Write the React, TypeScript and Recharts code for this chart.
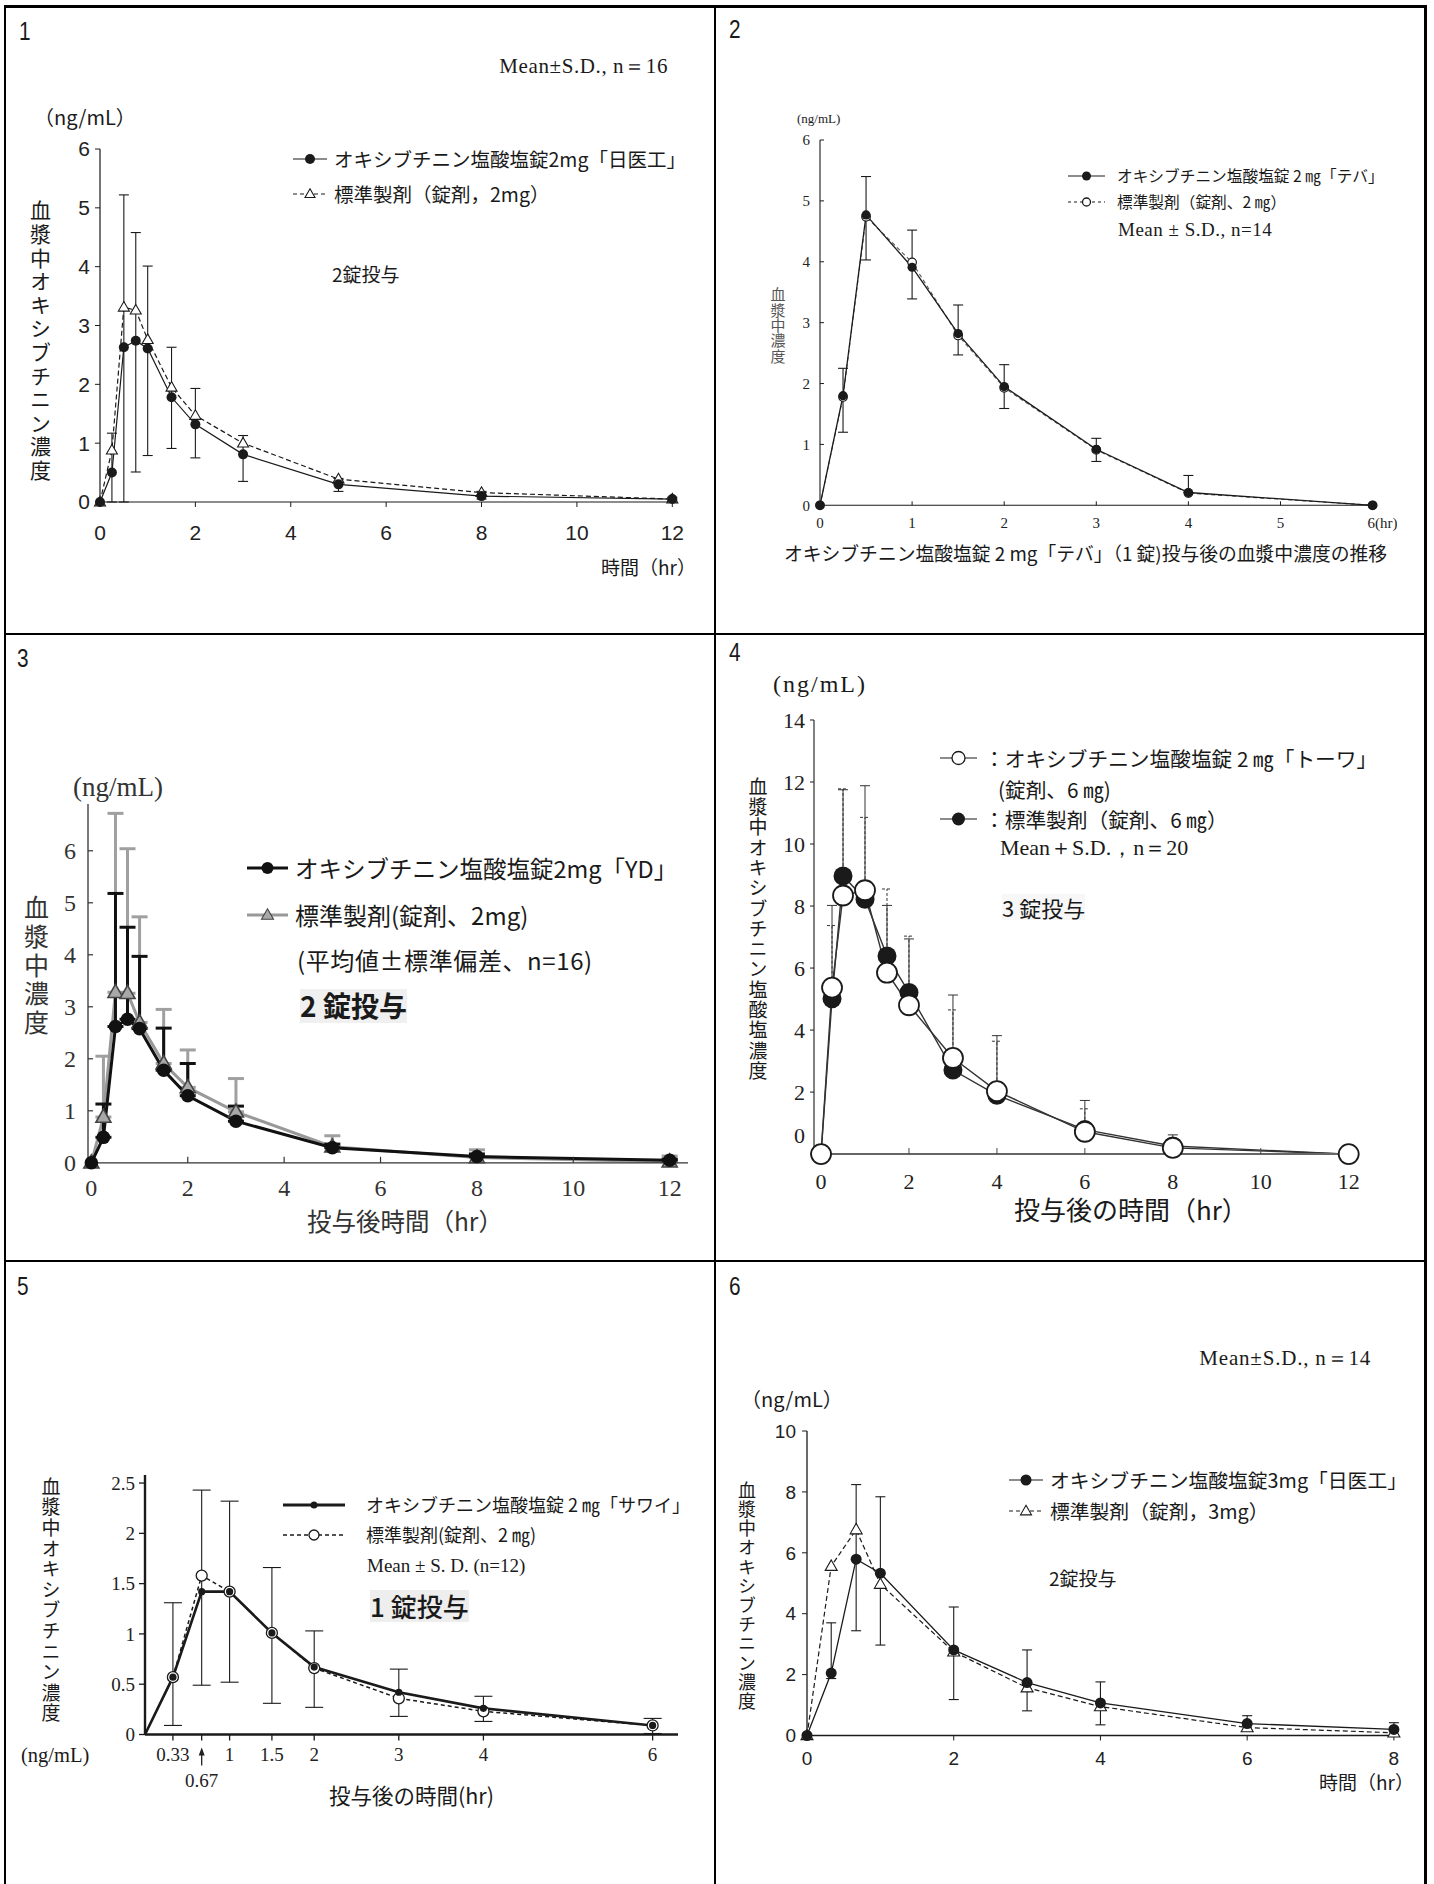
import React from "react";
import { LineChart, Line, XAxis, YAxis, ErrorBar } from "recharts";

const JP = '"Noto Sans CJK JP", sans-serif';
const SERIF = '"Liberation Serif", "DejaVu Serif", serif';
const SANS = '"Liberation Sans", Arial, sans-serif';
const INK = "#1a1a1a";

// panel 1: 2mg「日医工」 vs reference, 2 tablets
const P1_TIME = [0, 0.25, 0.5, 0.75, 1, 1.5, 2, 3, 5, 8, 12];
const P1_TEST = [0, 0.5, 2.63, 2.74, 2.61, 1.78, 1.32, 0.81, 0.3, 0.1, 0.05];
const P1_REF = [0, 0.88, 3.31, 3.26, 2.76, 1.95, 1.47, 1.0, 0.39, 0.16, 0.05];
const P1_HI = [0, 1.17, 5.22, 4.58, 4.01, 2.63, 1.93, 1.13, 0.4, 0.18, 0.08];
const P1_LO = [0, 0, 0, 0.51, 0.79, 0.91, 0.75, 0.35, 0.18, 0.05, 0.02];

// panel 2: 「テバ」 1 tablet
const P2_TIME = [0, 0.25, 0.5, 1, 1.5, 2, 3, 4, 6];
const P2_TEST = [0, 1.8, 4.77, 3.91, 2.82, 1.95, 0.92, 0.21, 0];
const P2_REF = [0, 1.78, 4.74, 3.99, 2.79, 1.93, 0.91, 0.2, 0];
const P2_HI = [0, 2.25, 5.4, 4.52, 3.29, 2.31, 1.1, 0.49, 0];
const P2_LO = [0, 1.2, 4.03, 3.39, 2.47, 1.59, 0.72, 0.21, 0];

// panel 3: 「YD」 2 tablets (mean + SD)
const P3_TIME = [0, 0.25, 0.5, 0.75, 1, 1.5, 2, 3, 5, 8, 12];
const P3_TEST = [0, 0.49, 2.62, 2.76, 2.58, 1.78, 1.29, 0.8, 0.29, 0.12, 0.05];
const P3_REF = [0, 0.88, 3.28, 3.26, 2.7, 1.91, 1.45, 0.98, 0.31, 0.1, 0.02];
const P3_TEST_HI = [0, 1.13, 5.18, 4.53, 3.97, 2.59, 1.91, 1.09, 0.36, 0.17, 0.07];
const P3_REF_HI = [0, 2.05, 6.72, 6.04, 4.73, 2.95, 2.17, 1.62, 0.52, 0.25, 0.13];

// panel 4: 「トーワ」 3 tablets (mean + SD)
const P4_TIME = [0, 0.25, 0.5, 1, 1.5, 2, 3, 4, 6, 8, 12];
const P4_TEST = [0, 5.37, 8.34, 8.51, 5.85, 4.8, 3.1, 2.03, 0.72, 0.2, 0];
const P4_REF = [0, 5.01, 8.97, 8.22, 6.39, 5.21, 2.71, 1.9, 0.79, 0.26, 0];
const P4_TEST_HI = [0, 8.02, 11.75, 11.88, 8.02, 6.94, 5.13, 3.82, 1.73, 0.62, 0];
const P4_REF_HI = [0, 7.37, 11.78, 10.86, 8.55, 7.03, 4.65, 3.64, 1.46, 0.45, 0];

// panel 5: 「サワイ」 1 tablet
const P5_TIME = [0, 0.33, 0.67, 1, 1.5, 2, 3, 4, 6];
const P5_TEST = [0, 0.57, 1.42, 1.42, 1.01, 0.67, 0.42, 0.26, 0.09];
const P5_REF = [0, 0.57, 1.58, 1.42, 1.01, 0.66, 0.36, 0.23, 0.09];
const P5_HI = [0, 1.31, 2.43, 2.32, 1.66, 1.03, 0.65, 0.38, 0.16];
const P5_LO = [0, 0.09, 0.49, 0.52, 0.31, 0.27, 0.18, 0.13, 0.01];

// panel 6: 3mg「日医工」 2 tablets
const P6_TIME = [0, 0.33, 0.67, 1, 2, 3, 4, 6, 8];
const P6_TEST = [0, 2.05, 5.79, 5.33, 2.81, 1.74, 1.07, 0.39, 0.2];
const P6_REF = [0, 5.56, 6.76, 4.97, 2.75, 1.57, 0.95, 0.26, 0.09];
const P6_HI = [0, 3.7, 8.24, 7.84, 4.22, 2.81, 1.76, 0.65, 0.42];
const P6_LO = [0, 1.87, 3.44, 2.97, 1.18, 0.81, 0.35, 0.2, 0.0];

const X12 = [0, 2, 4, 6, 8, 10, 12];

function errOf(m: number, lo: number | undefined, hi: number | undefined) {
  if (hi == null) return null;
  const l = lo == null ? m : lo;
  if (hi === m && l === m) return null;
  return [Math.max(0, m - l), Math.max(0, hi - m)];
}

function rows(time: number[], a: number[], b: number[], aHi?: number[], aLo?: number[], bHi?: number[]) {
  return time.map((t, i) => ({
    t,
    a: a[i],
    b: b[i],
    ea: errOf(a[i], aLo ? aLo[i] : undefined, aHi ? aHi[i] : undefined),
    eb: errOf(b[i], undefined, bHi ? bHi[i] : undefined),
  }));
}

function triPath(cx: number, cy: number, s: number) {
  const h = s * 0.87;
  return `M${cx},${cy - h * 0.6}L${cx + s / 2},${cy + h * 0.4}L${cx - s / 2},${cy + h * 0.4}Z`;
}

const filled = (r: number, color = INK) => (p: any) =>
  <circle key={`f${p.index}`} cx={p.cx} cy={p.cy} r={r} fill={color} stroke="none" />;
const open = (r: number, sw = 1.3, color = INK) => (p: any) =>
  <circle key={`o${p.index}`} cx={p.cx} cy={p.cy} r={r} fill="#fff" stroke={color} strokeWidth={sw} />;
const tri = (s: number, fill = "#fff", stroke = INK, sw = 1.1) => (p: any) =>
  <path key={`t${p.index}`} d={triPath(p.cx, p.cy, s)} fill={fill} stroke={stroke} strokeWidth={sw} />;
const skip0 = (f: (p: any) => any) => (p: any) =>
  p.payload && p.payload.t === 0 ? <g key={`z${p.index}`} /> : f(p);

function Plot({ rect, data, xDomain, xTicks, yDomain, yTicks, xProps, yProps, children }: any) {
  const YW = 80, XH = 70, PAD = 24;
  const w = rect.r - rect.l + YW + 2 * PAD;
  const h = rect.b - rect.t + XH + 2 * PAD;
  return (
    <div style={{ position: "absolute", left: rect.l - YW - PAD, top: rect.t - PAD }}>
      <LineChart width={w} height={h} data={data} margin={{ top: PAD, right: PAD, bottom: PAD, left: PAD }}>
        <XAxis type="number" dataKey="t" domain={xDomain} ticks={xTicks} interval={0} height={XH} {...xProps} />
        <YAxis type="number" domain={yDomain} ticks={yTicks} interval={0} width={YW} {...yProps} />
        {children}
      </LineChart>
    </div>
  );
}

function Txt({ x, cy, fs, font = JP, anchor = "start", children, weight = 400, color = INK, bg, ls, style }: any) {
  const tx = anchor === "end" ? "translateX(-100%)" : anchor === "middle" ? "translateX(-50%)" : undefined;
  return (
    <div
      style={{
        position: "absolute", left: x, top: cy - fs * 0.6, fontSize: fs, lineHeight: `${fs * 1.2}px`,
        fontFamily: font, whiteSpace: "nowrap", transform: tx, fontWeight: weight, color, background: bg,
        letterSpacing: ls, ...style,
      }}
    >
      {children}
    </div>
  );
}

function VText({ cx, top, fs, pitch, children, font = JP, color = INK }: any) {
  return (
    <div
      style={{
        position: "absolute", left: cx - fs / 2, top, writingMode: "vertical-rl", fontSize: fs,
        lineHeight: `${fs}px`, letterSpacing: pitch - fs, fontFamily: font, color, whiteSpace: "nowrap",
      }}
    >
      {children}
    </div>
  );
}

function Icon({ x, cy, w, dash, sw = 1.2, color = INK, marker, r = 4.5, mstroke = INK, mfill }: any) {
  const h = 30;
  const mx = w / 2;
  let m = null;
  if (marker === "fc") m = <circle cx={mx} cy={h / 2} r={r} fill={color} />;
  if (marker === "oc") m = <circle cx={mx} cy={h / 2} r={r} fill="#fff" stroke={mstroke} strokeWidth={1.3} />;
  if (marker === "tri") m = <path d={triPath(mx, h / 2, r * 2)} fill={mfill || "#fff"} stroke={mstroke} strokeWidth={1.1} />;
  return (
    <svg style={{ position: "absolute", left: x, top: cy - h / 2, overflow: "visible" }} width={w} height={h}>
      <line x1={0} y1={h / 2} x2={w} y2={h / 2} stroke={color} strokeWidth={sw} strokeDasharray={dash} />
      {m}
    </svg>
  );
}

function Num({ x, cy, children }: any) {
  return (
    <Txt x={x} cy={cy} fs={26} font={SANS} style={{ transform: "scaleX(0.8)", transformOrigin: "left center" }}>
      {children}
    </Txt>
  );
}

const axis = (sw = 1.2, color = INK) => ({ stroke: color, strokeWidth: sw });

function Panel1() {
  const data = rows(P1_TIME, P1_TEST, P1_REF, P1_HI, P1_LO);
  const tick = { fontSize: 21, fontFamily: SANS, fill: "#222" };
  return (
    <>
      <Plot
        rect={{ l: 99.7, r: 672, t: 149, b: 502 }} data={data}
        xDomain={[0, 12]} xTicks={X12} yDomain={[0, 6]} yTicks={[0, 1, 2, 3, 4, 5, 6]}
        xProps={{ axisLine: axis(), tickLine: axis(1), tickSize: 5, tickMargin: 18, tick }}
        yProps={{ axisLine: axis(), tickLine: axis(1), tickSize: 5, tickMargin: 5, tick }}
      >
        <Line type="linear" dataKey="b" stroke={INK} strokeWidth={1.2} strokeDasharray="5 3" dot={tri(11)} activeDot={false} isAnimationActive={false} />
        <Line type="linear" dataKey="a" stroke={INK} strokeWidth={1.2} dot={filled(5)} activeDot={false} isAnimationActive={false}>
          <ErrorBar dataKey="ea" direction="y" width={5} stroke={INK} strokeWidth={1.1} />
        </Line>
      </Plot>
      <Num x={19} cy={31.5}>1</Num>
      <Txt x={668} cy={67} fs={21} font={SERIF} anchor="end" ls={0.6}>Mean±S.D., n＝16</Txt>
      <Txt x={34} cy={117} fs={20}>（ng/mL）</Txt>
      <VText cx={40} top={200} fs={21} pitch={23.6}>血漿中オキシブチニン濃度</VText>
      <Txt x={601} cy={567} fs={19}>時間（hr）</Txt>
      <Icon x={293} cy={159} w={34} marker="fc" r={5} />
      <Txt x={334} cy={159} fs={19.5}>オキシブチニン塩酸塩錠2mg「日医工」</Txt>
      <Icon x={293} cy={194} w={34} dash="4 3" marker="tri" r={5} />
      <Txt x={334} cy={194} fs={19.5}>標準製剤（錠剤，2mg）</Txt>
      <Txt x={332} cy={274} fs={19}>2錠投与</Txt>
    </>
  );
}

function Panel2() {
  const data = rows(P2_TIME, P2_TEST, P2_REF, P2_HI, P2_LO);
  const tick = { fontSize: 15, fontFamily: SERIF, fill: "#222" };
  const xTick = (p: any) => {
    const v = p.payload.value;
    return (
      <text x={v === 6 ? p.x - 5 : p.x} y={p.y} dy="0.71em" textAnchor={v === 6 ? "start" : "middle"} fontSize={15} fontFamily={SERIF} fill="#222">
        {v === 6 ? "6(hr)" : v}
      </text>
    );
  };
  return (
    <>
      <Plot
        rect={{ l: 820.4, r: 1373, t: 139.7, b: 505 }} data={data}
        xDomain={[0, 6]} xTicks={[0, 1, 2, 3, 4, 5, 6]} yDomain={[0, 6]} yTicks={[0, 1, 2, 3, 4, 5, 6]}
        xProps={{ axisLine: axis(1.1), tickLine: axis(1), tickSize: -4, tickMargin: 16, tick: xTick }}
        yProps={{ axisLine: axis(1.1), tickLine: axis(1), tickSize: -4, tickMargin: 14, tick }}
      >
        <Line type="linear" dataKey="b" stroke="#555" strokeWidth={1.1} strokeDasharray="4 3" dot={open(4.3, 1.2)} activeDot={false} isAnimationActive={false} />
        <Line type="linear" dataKey="a" stroke={INK} strokeWidth={1.3} dot={filled(4.6)} activeDot={false} isAnimationActive={false}>
          <ErrorBar dataKey="ea" direction="y" width={5} stroke={INK} strokeWidth={1.1} />
        </Line>
      </Plot>
      <Num x={729} cy={30}>2</Num>
      <Txt x={797} cy={119} fs={13} font={SERIF}>(ng/mL)</Txt>
      <VText cx={778} top={287} fs={15} pitch={15.4} color="#555">血漿中濃度</VText>
      <Txt x={784} cy={553} fs={18.8}>オキシブチニン塩酸塩錠 2 mg「テバ」（1 錠)投与後の血漿中濃度の推移</Txt>
      <Icon x={1068} cy={176} w={37} marker="fc" r={4.5} />
      <Txt x={1117} cy={176} fs={15.7}>オキシブチニン塩酸塩錠 2 ㎎「テバ」</Txt>
      <Icon x={1068} cy={202} w={37} dash="3 3" marker="oc" r={4} />
      <Txt x={1117} cy={202} fs={15.7}>標準製剤（錠剤、2 ㎎）</Txt>
      <Txt x={1118} cy={230} fs={19} font={SERIF} ls={0.5}>Mean ± S.D., n=14</Txt>
    </>
  );
}

function Panel3() {
  const data = rows(P3_TIME, P3_TEST, P3_REF, P3_TEST_HI, undefined, P3_REF_HI);
  const tick = { fontSize: 24, fontFamily: SERIF, fill: "#333" };
  return (
    <>
      <Plot
        rect={{ l: 88, r: 688, t: 803.7, b: 1162.5 }} data={data}
        xDomain={[-0.07, 12.38]} xTicks={X12} yDomain={[0, 6.9]} yTicks={[0, 1, 2, 3, 4, 5, 6]}
        xProps={{ axisLine: axis(1.3, "#333"), tickLine: axis(1.2, "#333"), tickSize: -6, tickMargin: 22, tick }}
        yProps={{ axisLine: axis(1.3, "#333"), tickLine: axis(1.2, "#333"), tickSize: -5, tickMargin: 17, tick }}
      >
        <Line type="linear" dataKey="b" stroke="#999" strokeWidth={3} dot={tri(15, "#a8a8a8", "#444", 1.6)} activeDot={false} isAnimationActive={false}>
          <ErrorBar dataKey="eb" direction="y" width={8} stroke="#a0a0a0" strokeWidth={3} />
        </Line>
        <Line type="linear" dataKey="a" stroke="#111" strokeWidth={3} dot={filled(6.8, "#111")} activeDot={false} isAnimationActive={false}>
          <ErrorBar dataKey="ea" direction="y" width={8} stroke="#111" strokeWidth={3} />
        </Line>
      </Plot>
      <Num x={17} cy={658.5}>3</Num>
      <Txt x={73} cy={787} fs={27} font={SERIF} color="#333">(ng/mL)</Txt>
      <VText cx={36} top={895} fs={25} pitch={28.8} color="#333">血漿中濃度</VText>
      <Txt x={307} cy={1221} fs={24.5} color="#333">投与後時間（hr）</Txt>
      <Icon x={247} cy={868} w={41} sw={3} color="#111" marker="fc" r={6} />
      <Txt x={295} cy={868} fs={23.5}>オキシブチニン塩酸塩錠2mg「YD」</Txt>
      <Icon x={247} cy={915} w={41} sw={3} color="#999" marker="tri" r={6} mfill="#a8a8a8" mstroke="#444" />
      <Txt x={295} cy={915} fs={24}>標準製剤(錠剤、2mg)</Txt>
      <Txt x={297} cy={960} fs={24} ls={0.6}>(平均値±標準偏差、n=16)</Txt>
      <Txt x={300} cy={1006} fs={28} weight={700} bg="#f0f0f0">2 錠投与</Txt>
    </>
  );
}

function Panel4() {
  const data = rows(P4_TIME, P4_TEST, P4_REF, P4_TEST_HI, undefined, P4_REF_HI);
  const tick = { fontSize: 22, fontFamily: SERIF, fill: "#222" };
  const yTick = (p: any) => {
    const v = p.payload.value;
    return (
      <text x={p.x} y={v === 0 ? p.y - 19 : p.y} dy="0.355em" textAnchor="end" fontSize={22} fontFamily={SERIF} fill="#222">
        {v}
      </text>
    );
  };
  return (
    <>
      <Plot
        rect={{ l: 813.5, r: 1357, t: 720.3, b: 1154.4 }} data={data}
        xDomain={[-0.16, 12.2]} xTicks={X12} yDomain={[0, 14]} yTicks={[0, 2, 4, 6, 8, 10, 12, 14]}
        xProps={{ axisLine: axis(2, "#666"), tickLine: axis(1, "#444"), tickSize: -6, tickMargin: 25, tick }}
        yProps={{ axisLine: axis(1.1), tickLine: axis(1), tickSize: 4, tickMargin: 5, tick: yTick }}
      >
        <Line type="linear" dataKey="b" stroke="#333" strokeWidth={1.4} dot={filled(9.5)} activeDot={false} isAnimationActive={false}>
          <ErrorBar dataKey="eb" direction="y" width={5} stroke="#333" strokeWidth={1} strokeDasharray="3 2" />
        </Line>
        <Line type="linear" dataKey="a" stroke="#333" strokeWidth={1.4} dot={open(10, 1.8)} activeDot={false} isAnimationActive={false}>
          <ErrorBar dataKey="ea" direction="y" width={5} stroke="#333" strokeWidth={1} />
        </Line>
      </Plot>
      <Num x={729} cy={652.5}>4</Num>
      <Txt x={773} cy={684} fs={24} font={SERIF} ls={2}>(ng/mL)</Txt>
      <VText cx={758} top={777} fs={19} pitch={20.3}>血漿中オキシブチニン塩酸塩濃度</VText>
      <Txt x={1014} cy={1209} fs={26}>投与後の時間（hr）</Txt>
      <Icon x={940} cy={758} w={37} marker="oc" r={6.5} />
      <Txt x={984} cy={758} fs={20.7}>：オキシブチニン塩酸塩錠 2 ㎎「トーワ」</Txt>
      <Txt x={998} cy={789} fs={20.7}>(錠剤、6 ㎎)</Txt>
      <Icon x={940} cy={819} w={37} marker="fc" r={6.5} />
      <Txt x={984} cy={819} fs={20.7}>：標準製剤（錠剤、6 ㎎）</Txt>
      <Txt x={1000} cy={848} fs={22} font={SERIF}>Mean＋S.D.，n＝20</Txt>
      <Txt x={1002} cy={907} fs={22} bg="#f7f7f7">3 錠投与</Txt>
    </>
  );
}

function Panel5() {
  const data = rows(P5_TIME, P5_TEST, P5_REF, P5_HI, P5_LO);
  const tick = { fontSize: 19, fontFamily: SERIF, fill: "#222" };
  const xTick = (p: any) => {
    const v = p.payload.value;
    if (v === 0.67) {
      return (
        <g>
          <line x1={p.x} y1={p.y + 2} x2={p.x} y2={p.y + 18} stroke="#222" strokeWidth={1.3} />
          <path d={`M${p.x - 3},${p.y + 8}L${p.x},${p.y}L${p.x + 3},${p.y + 8}Z`} fill="#222" />
          <text x={p.x} y={p.y + 26} dy="0.71em" textAnchor="middle" fontSize={19} fontFamily={SERIF} fill="#222">0.67</text>
        </g>
      );
    }
    return (
      <text x={p.x} y={p.y} dy="0.71em" textAnchor="middle" fontSize={19} fontFamily={SERIF} fill="#222">{v}</text>
    );
  };
  return (
    <>
      <Plot
        rect={{ l: 145.4, r: 678.4, t: 1474.5, b: 1734 }} data={data}
        xDomain={[0, 6.3]} xTicks={[0.33, 0.67, 1, 1.5, 2, 3, 4, 6]} yDomain={[0, 2.58]} yTicks={[0, 0.5, 1, 1.5, 2, 2.5]}
        xProps={{ axisLine: axis(2.4), tickLine: axis(1.3), tickSize: 6, tickMargin: 7, tick: xTick }}
        yProps={{ axisLine: axis(2.4), tickLine: axis(1.3), tickSize: 6, tickMargin: 4, tick }}
      >
        <Line type="linear" dataKey="b" stroke={INK} strokeWidth={1.5} strokeDasharray="4 3" dot={skip0(open(5.5, 1.3))} activeDot={false} isAnimationActive={false} />
        <Line type="linear" dataKey="a" stroke={INK} strokeWidth={2.6} dot={skip0(filled(3.6))} activeDot={false} isAnimationActive={false}>
          <ErrorBar dataKey="ea" direction="y" width={9} stroke={INK} strokeWidth={1.1} />
        </Line>
      </Plot>
      <Num x={17} cy={1287}>5</Num>
      <VText cx={51} top={1477} fs={19} pitch={20.6}>血漿中オキシブチニン濃度</VText>
      <Txt x={21} cy={1755} fs={20.5} font={SERIF}>(ng/mL)</Txt>
      <Txt x={329} cy={1795} fs={21.5}>投与後の時間(hr)</Txt>
      <Icon x={283} cy={1505} w={62} sw={2.8} marker="fc" r={3.5} />
      <Txt x={366} cy={1505} fs={18}>オキシブチニン塩酸塩錠 2 ㎎「サワイ」</Txt>
      <Icon x={283} cy={1535} w={62} sw={1.5} dash="4 3" marker="oc" r={5} />
      <Txt x={366} cy={1535} fs={18}>標準製剤(錠剤、2 ㎎)</Txt>
      <Txt x={367} cy={1566} fs={19} font={SERIF}>Mean ± S. D. (n=12)</Txt>
      <Txt x={370} cy={1606} fs={26} weight={500} bg="#eeeeee">1 錠投与</Txt>
    </>
  );
}

function Panel6() {
  const data = rows(P6_TIME, P6_TEST, P6_REF, P6_HI, P6_LO);
  const tick = { fontSize: 19, fontFamily: SANS, fill: "#222" };
  return (
    <>
      <Plot
        rect={{ l: 806.7, r: 1393.6, t: 1431, b: 1735.5 }} data={data}
        xDomain={[0, 8]} xTicks={[0, 2, 4, 6, 8]} yDomain={[0, 10]} yTicks={[0, 2, 4, 6, 8, 10]}
        xProps={{ axisLine: axis(1.3), tickLine: axis(1), tickSize: 5, tickMargin: 11, tick }}
        yProps={{ axisLine: axis(1.3), tickLine: axis(1), tickSize: 5, tickMargin: 6, tick }}
      >
        <Line type="linear" dataKey="b" stroke={INK} strokeWidth={1.2} strokeDasharray="5 3" dot={tri(12)} activeDot={false} isAnimationActive={false} />
        <Line type="linear" dataKey="a" stroke={INK} strokeWidth={1.3} dot={filled(5.5)} activeDot={false} isAnimationActive={false}>
          <ErrorBar dataKey="ea" direction="y" width={5} stroke={INK} strokeWidth={1.1} />
        </Line>
      </Plot>
      <Num x={729} cy={1287}>6</Num>
      <Txt x={1371} cy={1359} fs={21} font={SERIF} anchor="end" ls={0.8}>Mean±S.D., n＝14</Txt>
      <Txt x={741} cy={1399} fs={20}>（ng/mL）</Txt>
      <VText cx={747} top={1481} fs={18} pitch={19.2}>血漿中オキシブチニン濃度</VText>
      <Txt x={1319} cy={1782} fs={19}>時間（hr）</Txt>
      <Icon x={1009} cy={1480} w={34} marker="fc" r={5.5} />
      <Txt x={1050} cy={1480} fs={19.8}>オキシブチニン塩酸塩錠3mg「日医工」</Txt>
      <Icon x={1009} cy={1511} w={34} dash="4 3" marker="tri" r={5.5} />
      <Txt x={1050} cy={1511} fs={19.8}>標準製剤（錠剤，3mg）</Txt>
      <Txt x={1049} cy={1578} fs={19}>2錠投与</Txt>
    </>
  );
}

function Rule({ x, y, w, h }: any) {
  return <div style={{ position: "absolute", left: x, top: y, width: w, height: h, background: "#000" }} />;
}

export default function App() {
  return (
    <div style={{ position: "absolute", left: 0, top: 0, width: 1434, height: 1884, background: "#fff", overflow: "hidden" }}>
      <Rule x={3.5} y={5} w={1423} h={2.5} />
      <Rule x={3.5} y={5} w={2.5} h={1884} />
      <Rule x={1424} y={5} w={2.5} h={1884} />
      <Rule x={713.5} y={5} w={2.5} h={1884} />
      <Rule x={3.5} y={632.5} w={1423} h={2.5} />
      <Rule x={3.5} y={1259.5} w={1423} h={2.5} />
      <Panel1 />
      <Panel2 />
      <Panel3 />
      <Panel4 />
      <Panel5 />
      <Panel6 />
    </div>
  );
}
